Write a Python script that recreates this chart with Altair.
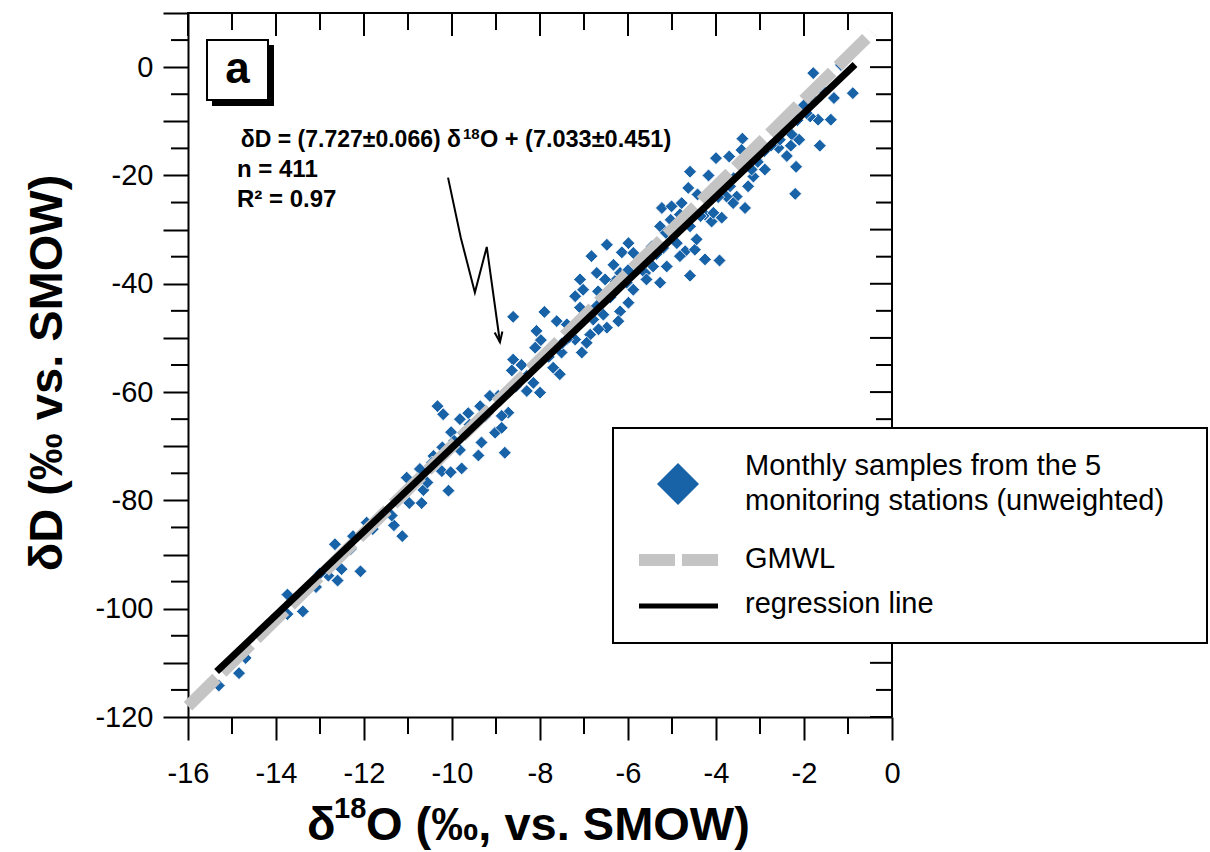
import altair as alt
import pandas as pd

# ---------------- data ----------------
x_o18 = [
    -15.30, -14.84, -14.69, -13.74, -13.74, -13.39, -13.09, -12.60, -12.51, -12.66,
    -12.08, -12.81, -11.94, -11.80, -11.32, -11.13, -11.37, -11.03, -10.97, -10.69,
    -10.65, -10.56, -12.25,
    -8.61, -7.90, -7.62, -8.08, -8.11, -7.98, -8.61, -8.64, -8.42, -7.70,
    -7.55, -7.51, -8.30, -8.00, -8.15, -10.33, -10.20, -9.63, -9.82, -9.36,
    -8.95, -8.72, -8.87, -9.02, -8.87, -9.33, -10.02, -9.93, -9.82, -9.40,
    -8.80, -10.22, -10.23, -10.03, -9.78, -10.08, -6.83, -6.48, -5.99, -6.14,
    -7.09, -6.71, -7.02, -7.20, -6.68, -6.33, -6.30, -6.03, -5.88, -5.99,
    -6.18, -6.22, -6.48, -6.67, -6.86, -7.05, -6.94, -7.20, -6.79, -6.56,
    -7.09, -7.39,
    -1.79, -1.16, -0.89, -1.32, -1.86, -1.68, -1.39, -1.86, -1.64, -2.27,
    -2.11, -2.30, -2.39, -2.18, -2.20, -2.66, -2.58, -3.40, -3.42, -4.00,
    -3.70, -3.45, -3.08, -2.89, -3.15, -3.27, -4.59, -4.17, -4.63, -4.42,
    -3.91, -3.68, -3.53, -3.34, -3.61, -3.87, -4.10, -4.25, -5.23, -5.01,
    -4.78, -5.03, -4.82, -4.59, -5.27, -5.14, -4.86, -5.88, -5.46, -5.48,
    -5.20, -4.89, -4.70, -4.48, -4.25, -3.92, -4.59, -5.43, -5.61, -5.27,
    -6.52,
    -5.12, -4.82, -4.44, -4.06, -3.76, -3.19, -2.55, -1.94, -5.58, -6.18,
    -9.14, -8.45, -7.39, -6.71, -6.33, -9.74, -10.42, -10.73,
    -2.90, -2.45, -2.00, -3.60, -5.60, -6.00, -7.50, -7.80, -8.30, -9.60,
    -11.60, -12.30, -13.00,
    -3.05, -2.75, -3.95, -4.35, -5.35, -5.75, -6.40, -6.90, -7.30, -7.70,
    -8.55, -8.90, -9.25, -9.95, -10.45, -11.20, -1.55, -2.15,
]
y_dD = [
    -114.2, -111.9, -109.1, -97.4, -101.0, -100.5, -96.0, -94.8, -92.7, -88.1,
    -93.1, -93.9, -84.1, -85.3, -84.6, -86.6, -82.8, -75.8, -80.5, -80.5,
    -78.1, -76.7, -86.6,
    -46.1, -45.2, -46.9, -48.7, -51.8, -50.4, -54.0, -56.0, -55.0, -55.5,
    -56.7, -52.7, -59.8, -60.1, -58.3, -62.6, -64.1, -63.9, -65.0, -62.6,
    -60.7, -63.8, -64.4, -67.5, -66.6, -69.3, -67.4, -69.3, -70.7, -71.7,
    -71.2, -70.2, -74.6, -74.8, -74.1, -78.2, -34.9, -32.8, -32.5, -34.2,
    -39.2, -38.0, -41.1, -42.3, -41.4, -36.5, -39.5, -39.8, -41.1, -43.5,
    -45.1, -46.9, -48.1, -48.4, -49.4, -52.7, -50.9, -50.3, -46.6, -45.7,
    -44.4, -47.5,
    -1.1, 0.4, -4.8, -5.7, -5.4, -9.7, -9.7, -9.1, -14.5, -12.5,
    -13.4, -14.5, -16.4, -18.4, -23.4, -11.3, -14.9, -13.2, -15.3, -16.8,
    -16.5, -17.4, -17.1, -18.9, -20.2, -22.0, -19.3, -20.0, -22.3, -23.5,
    -22.0, -22.0, -23.9, -26.0, -25.1, -27.8, -28.5, -27.2, -26.0, -25.7,
    -25.1, -28.2, -27.2, -29.4, -29.4, -30.6, -30.0, -34.3, -33.1, -34.9,
    -33.4, -32.5, -34.0, -33.7, -35.5, -35.7, -38.5, -36.8, -38.0, -39.8,
    -39.2,
    -36.8, -34.9, -31.8, -26.9, -23.9, -18.9, -13.4, -8.5, -39.2, -38.0,
    -60.7, -57.6, -50.3, -44.1, -41.7, -67.5, -71.8, -74.2,
    -15.5, -10.0, -7.0, -20.5, -36.0, -37.5, -51.0, -53.5, -57.0, -66.0,
    -82.5, -89.0, -93.5,
    -17.5, -14.5, -24.0, -27.5, -34.5, -37.0, -42.5, -46.0, -49.0, -51.5,
    -59.0, -61.5, -64.5, -69.0, -73.0, -79.5, -4.5, -9.8,
]

gmwl_x = [-16.0, -0.45]
gmwl_y = [-118.0, 6.4]
reg_x = [-15.35, -0.84]
reg_y = [-111.6, 0.5]

arrow_x = [-10.09, -9.80, -9.48, -9.21, -8.91]
arrow_y = [-20.4, -31.5, -41.6, -33.2, -50.8]

x_major = [-16, -14, -12, -10, -8, -6, -4, -2, 0]
x_minor = [-15, -13, -11, -9, -7, -5, -3, -1]
y_major = [-120, -110, -100, -90, -80, -70, -60, -50, -40, -30, -20, -10, 0, 10]
y_minor = [-115, -105, -95, -85, -75, -65, -55, -45, -35, -25, -15, -5, 5]
y_right_major = [-120, -110, -60, -50, -40, -30, -20, -10, 0, 10]
y_right_minor = [-115, -65, -55, -45, -35, -25, -15, -5, 5]

eq_part1 = "δD = (7.727±0.066) δ"
eq_sup = "18"
eq_part3 = "O + (7.033±0.451)"
n_text = "n = 411"
r2_text = "R² = 0.97"
legend_labels = ["Monthly samples from the 5", "monitoring stations (unweighted)", "GMWL", "regression line"]

# ---------------- styling ----------------
W, H = 704, 704
FONT = "Liberation Sans"
BLUE = "#1862a8"
GRAY = "#c4c4c4"

xscale = alt.Scale(domain=[-16, 0], nice=False, zero=False)
yscale = alt.Scale(domain=[-120, 10], nice=False, zero=False)

xaxis = alt.Axis(values=x_major, labelExpr="toString(datum.value)", tickSize=23, tickWidth=2,
                 tickColor="black", domainColor="black", domainWidth=2, labelFontSize=29,
                 labelFont=FONT, labelColor="black", labelPadding=19, grid=False, title=None,
                 labelFlush=False, labelOverlap=False)
yaxis = alt.Axis(values=y_major, labelExpr="datum.value % 20 == 0 ? toString(datum.value) : ''",
                 tickSize=25, tickWidth=2, tickColor="black", domainColor="black", domainWidth=2,
                 labelFontSize=29, labelFont=FONT, labelColor="black", labelPadding=10,
                 grid=False, title=None, labelFlush=False, labelOverlap=False)


def X(f="x"):
    return alt.X(f + ":Q", scale=xscale, axis=xaxis)


def Y(f="y"):
    return alt.Y(f + ":Q", scale=yscale, axis=yaxis)


one = alt.Data(values=[{"k": 1}])

pts = pd.DataFrame({"x": x_o18, "y": y_dD})
scatter = alt.Chart(pts).mark_point(shape="diamond", filled=True, fill=BLUE, stroke="white",
                                    strokeWidth=0.8, size=165, opacity=1).encode(x=X(), y=Y())

gmwl = alt.Chart(pd.DataFrame({"x": gmwl_x, "y": gmwl_y})).mark_line(
    color=GRAY, strokeWidth=12, strokeDash=[40, 8], strokeCap="butt").encode(x=X(), y=Y())
reg = alt.Chart(pd.DataFrame({"x": reg_x, "y": reg_y})).mark_line(
    color="black", strokeWidth=7, strokeCap="butt").encode(x=X(), y=Y())

arr_df = pd.DataFrame({"x": arrow_x, "y": arrow_y, "i": list(range(len(arrow_x)))})
arrow = alt.Chart(arr_df).mark_line(color="black", strokeWidth=2, strokeJoin="miter").encode(
    x=X(), y=Y(), order=alt.Order("i:Q"))
head = alt.Chart(arr_df.tail(1)).mark_point(
    shape="M-0.45,-1.2L0,0L0.45,-1.2", filled=False, stroke="black", strokeWidth=2,
    size=300, angle=352, opacity=1).encode(x=X(), y=Y())


def txt(text, x, y, size, bold=True, align="left", baseline="alphabetic", angle=0):
    return alt.Chart(one).mark_text(text=text, fontSize=size, font=FONT,
                                    fontWeight="bold" if bold else "normal", align=align,
                                    baseline=baseline, angle=angle, color="black").encode(
        x=alt.value(x), y=alt.value(y))


annot = [
    txt(eq_part1, 273, 134, 23, align="right"),
    txt(eq_sup, 275, 126, 15),
    txt(eq_part3, 292, 134, 23.5),
    txt(n_text, 49, 164, 24),
    txt(r2_text, 49, 194, 24),
]


def rect(x1, x2, y1, y2, fill, stroke=None, sw=2):
    kw = dict(fill=fill)
    if stroke:
        kw.update(stroke=stroke, strokeWidth=sw)
    return alt.Chart(one).mark_rect(**kw).encode(
        x=alt.value(x1), x2=alt.value(x2), y=alt.value(y1), y2=alt.value(y2))


abox = [
    rect(24, 86, 32, 93, "black"),
    rect(19, 80, 27, 87, "white", "black", 2),
    txt("a", 49.5, 57, 44, baseline="middle", align="center"),
]

# frame (top and right) and tick marks
frame = [
    alt.Chart(one).mark_rule(color="black", strokeWidth=2).encode(
        x=alt.value(-1), x2=alt.value(W + 1), y=alt.value(0)),
    alt.Chart(one).mark_rule(color="black", strokeWidth=2).encode(
        x=alt.value(W), y=alt.value(0), y2=alt.value(H)),
]
ticks = [
    alt.Chart(pd.DataFrame({"x": x_major})).mark_rule(color="black", strokeWidth=2).encode(
        x=X(), y=alt.value(0), y2=alt.value(23)),
    alt.Chart(pd.DataFrame({"x": x_minor})).mark_rule(color="black", strokeWidth=2).encode(
        x=X(), y=alt.value(0), y2=alt.value(17)),
    alt.Chart(pd.DataFrame({"x": x_minor})).mark_rule(color="black", strokeWidth=2).encode(
        x=X(), y=alt.value(H), y2=alt.value(H + 17)),
    alt.Chart(pd.DataFrame({"y": y_minor})).mark_rule(color="black", strokeWidth=2).encode(
        y=Y(), x=alt.value(-17), x2=alt.value(0)),
    alt.Chart(pd.DataFrame({"y": y_right_major})).mark_rule(color="black", strokeWidth=2).encode(
        y=Y(), x=alt.value(W - 22), x2=alt.value(W)),
    alt.Chart(pd.DataFrame({"y": y_right_minor})).mark_rule(color="black", strokeWidth=2).encode(
        y=Y(), x=alt.value(W - 16), x2=alt.value(W)),
]

# legend
legend = [
    rect(425, 1019, 415, 630, "white", "black", 2),
    alt.Chart(one).mark_point(shape="diamond", filled=True, fill=BLUE, size=1764, opacity=1).encode(
        x=alt.value(490), y=alt.value(471)),
    txt(legend_labels[0], 557, 462, 29, bold=False),
    txt(legend_labels[1], 557, 497, 29, bold=False),
    alt.Chart(one).mark_rule(color=GRAY, strokeWidth=12, strokeDash=[36, 7]).encode(
        x=alt.value(451), x2=alt.value(530), y=alt.value(547)),
    txt(legend_labels[2], 557, 555, 29, bold=False),
    alt.Chart(one).mark_rule(color="black", strokeWidth=5).encode(
        x=alt.value(451), x2=alt.value(530), y=alt.value(593)),
    txt(legend_labels[3], 557, 600, 29, bold=False),
]

# axis titles
titles = [
    txt("δD (‰ vs. SMOW)", -140, 360, 47, align="center", baseline="middle", angle=270),
    txt("δ", 119, 827, 47),
    txt("18", 146, 805, 29),
    txt("O (‰, vs. SMOW)", 178, 827, 47),
]

chart = alt.layer(
    scatter, gmwl, reg, arrow, head, *annot, *abox, *frame, *ticks, *legend, *titles
).properties(
    width=W, height=H,
    padding={"left": 188, "top": 13, "right": 318, "bottom": 135},
    autosize=alt.AutoSizeParams(type="none"),
    background="white",
).configure_view(stroke=None)

chart.save("out.html", embed_options={"renderer": "svg", "actions": False})
